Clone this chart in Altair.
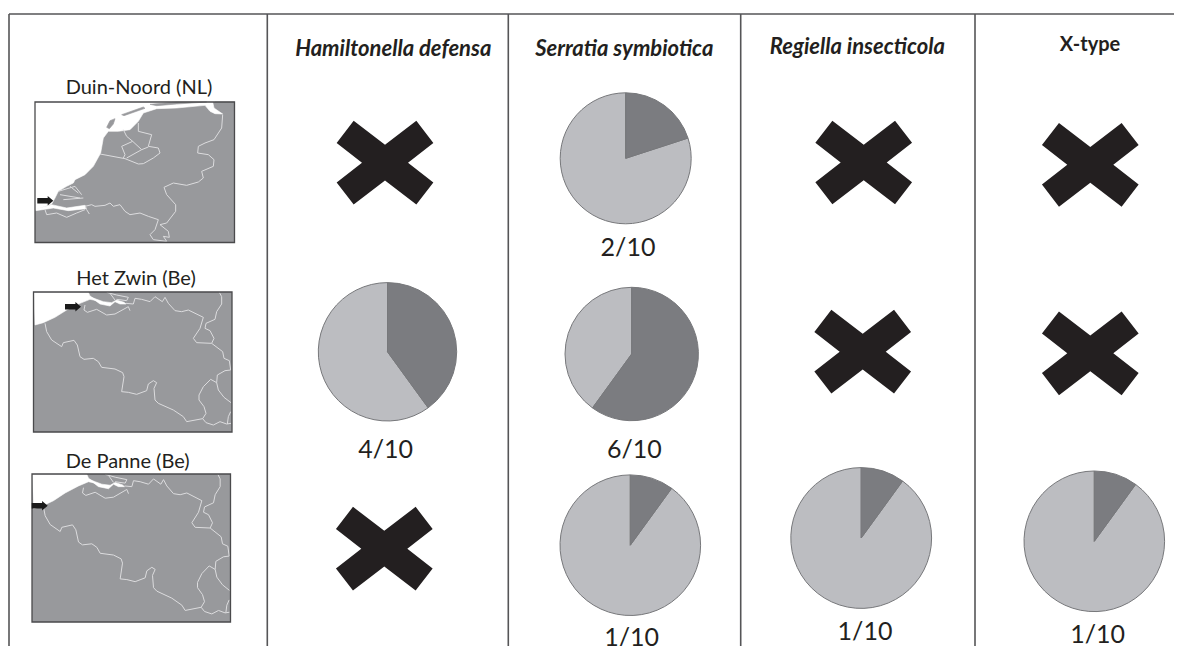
import altair as alt
import pandas as pd

# ---- content ----
SITES = ["Duin-Noord (NL)", "Het Zwin (Be)", "De Panne (Be)"]
SYMBIONTS = ["Hamiltonella defensa", "Serratia symbiotica", "Regiella insecticola", "X-type"]
TOTAL = 10
POSITIVE = {
    "Hamiltonella defensa": [0, 4, 0],
    "Serratia symbiotica": [2, 6, 1],
    "Regiella insecticola": [0, 0, 1],
    "X-type": [0, 0, 1],
}

# ---- layout of the panel, in picture pixels ----
W, H, M = 1174, 646, 8
PIE_AT = {
    ("Hamiltonella defensa", 1): (387.5, 351.8, 69.2),
    ("Serratia symbiotica", 0): (625.7, 158.3, 65.5),
    ("Serratia symbiotica", 1): (631.7, 354.0, 66.7),
    ("Serratia symbiotica", 2): (630.3, 545.2, 70.3),
    ("Regiella insecticola", 2): (861.2, 538.0, 70.4),
    ("X-type", 2): (1094.3, 541.3, 70.3),
}
CROSS_AT = {
    ("Hamiltonella defensa", 0): (385.0, 162.7),
    ("Hamiltonella defensa", 2): (384.3, 548.7),
    ("Regiella insecticola", 0): (863.7, 162.5),
    ("Regiella insecticola", 1): (862.7, 351.7),
    ("X-type", 0): (1090.3, 164.8),
    ("X-type", 1): (1090.3, 353.3),
}
LABEL_AT = {
    ("Hamiltonella defensa", 1): (385.7, 450),
    ("Serratia symbiotica", 0): (628, 248),
    ("Serratia symbiotica", 1): (634.3, 450),
    ("Serratia symbiotica", 2): (631.7, 638),
    ("Regiella insecticola", 2): (865, 632),
    ("X-type", 2): (1097.7, 635),
}
HEADER_AT = {
    "Hamiltonella defensa": (393.3, 49),
    "Serratia symbiotica": (624.3, 49),
    "Regiella insecticola": (857.3, 47),
    "X-type": (1090, 45),
}
SITE_AT = [(139, 88), (136, 279), (127.7, 462)]
ARROW_AT = [(45.3, 200.7), (73, 306.7), (39.7, 505.7)]
COL_LINES = [9, 267.3, 508.3, 740.7, 975]
TOP = 14
MAP_RECTS = [(35, 102, 234.5, 242.5), (33.5, 292, 232, 432), (32, 474, 230.5, 622)]

NL_SEA = [(15,12),(548,12),(552,30),(578,48),(555,47),(540,40),(525,22),(440,30),(380,32),(340,45),(325,70),
          (300,95),(265,100),(235,100),(220,120),(212,165),(190,205),(165,230),(135,245),(130,255),(110,265),
          (85,280),(75,300),(65,318),(15,335)]
NL_WATER = [(65,320),(110,330),(165,322),(168,332),(115,338),(70,330),(17,338),(17,333)]
NL_ISLANDS = [[(230,88),(240,68),(255,62),(250,78),(238,92)],
              [(360,19),(440,12),(530,12),(440,18),(380,23)],
              [(275,50),(340,27),(345,31),(282,53)],
              [(555,12),(613,12),(613,40),(575,40),(558,28)]]
NL_LINES = [[(280,95),(290,115),(308,130),(275,145),(285,170),(280,180)],
            [(325,75),(325,100),(365,110),(355,145),(385,150),(390,165),(370,180),(340,197),(325,198),(285,182),(210,168)],
            [(308,130),(335,155),(290,180)],
            [(335,155),(355,147)],
            [(578,50),(575,90),(552,125),(525,135),(505,145),(503,165),(535,170),(552,185),(550,205),(515,220),(520,240),
             (505,252),(470,262),(430,255),(402,268),(410,290),(437,320),(437,340),(410,375),(390,380),(415,400),(418,418),(400,415),(410,430)],
            [(165,325),(185,320),(195,325),(225,322),(240,315),(250,325),(270,320),(285,340),(300,350),(330,345),(355,355),(385,365),(375,395),(360,410),(370,425),(410,430)],
            [(85,280),(135,265),(155,290)],[(90,290),(150,300)],[(100,305),(160,300)],[(120,265),(145,285)],
            [(165,322),(170,335),(178,348)],
            [(45,335),(50,350),(80,345),(110,358),(140,345),(165,335)]]

BE_SEA = [(102,97),(265,97),(270,108),(290,122),(270,118),(240,130),(200,150),(165,172),(130,188),(105,195)]
BE_WATER = [(270,110),(300,132),(330,138),(345,125),(360,132),(378,132),(372,127),(350,120),(335,128),(310,125),(290,118)]
BE_LINES = [[(135,190),(140,215),(155,240),(185,260),(190,248),(222,241),(232,255),(240,290),(252,298),(280,295),(295,305),(305,322),
             (345,327),(368,338),(372,350),(365,395),(385,397),(410,403),(440,392),(445,372),(460,362),(470,368),(462,385),(465,420),
             (475,430),(520,450),(550,470),(560,485),(608,476),(618,488),(640,495),(660,485),(680,492),(693,490)],
            [(608,476),(618,460),(612,440),(597,420),(597,405),(610,380),(632,358),(650,368),(652,345),(675,332),(692,330)],
            [(650,368),(655,390),(672,412),(693,428)],
            [(692,330),(688,302),(672,295),(668,275),(635,250),(642,235),(630,212),(615,205),(618,190),(645,178),(650,155),(665,132),(665,110),(658,97)],
            [(635,250),(590,248),(580,235),(600,205),(610,172),(565,150),(545,155),(525,152),(505,130),(495,112),(487,125),(465,110),(450,125),(425,118),(405,115),(400,132),(378,130)],
            [(692,455),(685,470),(682,492)],
            [(255,135),(252,150),(262,157),(290,148),(320,165),(345,162),(385,140),(390,152)],
            [(320,97),(350,105),(385,112),(380,122),(350,118)],[(330,100),(345,120)]]

CROSS_PATH = "M-.648,-.866L0,-.369L.648,-.866L1,-.41L.476,0L1,.41L.648,.866L0,.369L-.648,.866L-1,.41L-.476,0L-1,-.41Z"
ARROW_PATH = "M-1,-.34L.3,-.34L.3,-.6L1,0L.3,.6L.3,.34L-1,.34Z"

def nl(p):
    return (30 + p[0] / 3, 98 + p[1] / 3)
def be2(p):
    return (p[0] / 3, 260 + p[1] / 3)
def be3(p):
    return ((p[0] - 4.5) / 3, 260 + (641 + (p[1] - 95) * 444 / 422) / 3)

def frame(groups):
    rows = []
    for g, pts in enumerate(groups):
        for i, (x, y) in enumerate(pts):
            rows.append({"g": g, "i": i, "x": x, "y": y})
    return pd.DataFrame(rows)

X = alt.Scale(domain=[M, W], range=[0, W - M])
Y = alt.Scale(domain=[M, H], range=[0, H - M])
ex = alt.X("x:Q", scale=X, axis=None)
ey = alt.Y("y:Q", scale=Y, axis=None)
ENC = dict(x=ex, y=ey, detail="g:N", order="i:Q")

INK = "#231f20"
RULE = "#555557"
LAND = "#98999c"
LIGHT = "#bcbdc1"
DARK = "#7b7c80"
BORDER = "#dcdcde"

def polys(groups, color):
    return alt.Chart(frame(groups)).mark_line(
        fill=color, stroke=color, strokeWidth=0.6, interpolate="linear-closed"
    ).encode(**ENC)

def lines(groups, color, width):
    return alt.Chart(frame(groups)).mark_line(color=color, strokeWidth=width).encode(**ENC)

rects = pd.DataFrame([dict(x=a, y=b, x2=c, y2=d) for a, b, c, d in MAP_RECTS])
land = alt.Chart(rects).mark_rect(fill=LAND).encode(x=ex, y=ey, x2="x2:Q", y2="y2:Q")
rect_edge = alt.Chart(rects).mark_rect(fill=None, stroke="#4a4a4c", strokeWidth=1.3, filled=False).encode(
    x=ex, y=ey, x2="x2:Q", y2="y2:Q")

sea = polys([[nl(p) for p in NL_SEA], [nl(p) for p in NL_WATER],
             [be2(p) for p in BE_SEA], [be2(p) for p in BE_WATER],
             [be3(p) for p in BE_SEA], [be3(p) for p in BE_WATER]], "#ffffff")
islands = polys([[nl(p) for p in g] for g in NL_ISLANDS], LAND)
borders = lines([[nl(p) for p in g] for g in NL_LINES]
                + [[be2(p) for p in g] for g in BE_LINES]
                + [[be3(p) for p in g] for g in BE_LINES], BORDER, 1.0)

# grid rules
rule_rows = [dict(x=c, y=TOP, y2=H) for c in COL_LINES]
verticals = alt.Chart(pd.DataFrame(rule_rows)).mark_rule(color=RULE, strokeWidth=1.6).encode(x=ex, y=ey, y2="y2:Q")
top_rule = alt.Chart(pd.DataFrame([dict(x=COL_LINES[0], x2=W, y=TOP)])).mark_rule(color=RULE, strokeWidth=1.6).encode(
    x=ex, x2="x2:Q", y=ey)

# pies
pie_rows, label_rows = [], []
for (sym, s), (cx, cy, r) in PIE_AT.items():
    n = POSITIVE[sym][s]
    pie_rows.append(dict(x=cx, y=cy, r=r, a=n, b=TOTAL, part="rest"))
    pie_rows.append(dict(x=cx, y=cy, r=r, a=0, b=n, part="infected"))
    lx, ly = LABEL_AT[(sym, s)]
    label_rows.append(dict(x=lx, y=ly, t=f"{n}/{TOTAL}"))

pies = alt.Chart(pd.DataFrame(pie_rows)).mark_arc(stroke="#77787b", strokeWidth=1).encode(
    x=ex, y=ey,
    theta=alt.Theta("a:Q", scale=alt.Scale(domain=[0, TOTAL], range=[0, 6.283185])),
    theta2="b:Q",
    radius=alt.Radius("r:Q", scale=None),
    color=alt.Color("part:N", legend=None,
                    scale=alt.Scale(domain=["rest", "infected"], range=[LIGHT, DARK])),
)
count_text = alt.Chart(pd.DataFrame(label_rows)).mark_text(
    font="Lato", fontSize=25, color=INK, align="center", baseline="middle"
).encode(x=ex, y=ey, text="t:N")

# crosses
cross_rows = [dict(x=v[0], y=v[1]) for k, v in CROSS_AT.items() if POSITIVE[k[0]][k[1]] == 0]
crosses = alt.Chart(pd.DataFrame(cross_rows)).mark_point(
    shape=CROSS_PATH, size=9351, filled=True, fill=INK, stroke=None, opacity=1
).encode(x=ex, y=ey)

arrows = alt.Chart(pd.DataFrame([dict(x=a, y=b) for a, b in ARROW_AT])).mark_point(
    shape=ARROW_PATH, size=256, filled=True, fill="#1a1a1a", stroke=None, opacity=1
).encode(x=ex, y=ey)

# texts
it = [dict(x=HEADER_AT[s][0], y=HEADER_AT[s][1], t=s) for s in SYMBIONTS[:3]]
head_it = alt.Chart(pd.DataFrame(it)).mark_text(
    font="Lato", fontSize=22, fontWeight="bold", fontStyle="italic", color=INK, align="center", baseline="middle"
).encode(x=ex, y=ey, text="t:N")
head_x = alt.Chart(pd.DataFrame([dict(x=HEADER_AT["X-type"][0], y=HEADER_AT["X-type"][1], t="X-type")])).mark_text(
    font="Lato", fontSize=20, fontWeight="bold", color=INK, align="center", baseline="middle"
).encode(x=ex, y=ey, text="t:N")
sites = alt.Chart(pd.DataFrame([dict(x=a[0], y=a[1], t=s) for a, s in zip(SITE_AT, SITES)])).mark_text(
    font="Lato", fontSize=20, color=INK, align="center", baseline="middle"
).encode(x=ex, y=ey, text="t:N")

chart = alt.layer(
    land, sea, islands, borders, rect_edge, arrows,
    verticals, top_rule, pies, crosses, count_text, head_it, head_x, sites
).properties(width=W - M, height=H - M, padding=0, background="#ffffff",
             autosize=alt.AutoSizeParams(type="none")
).configure_view(stroke=None)

chart.save("out.html", embed_options={"renderer": "svg", "actions": False})
